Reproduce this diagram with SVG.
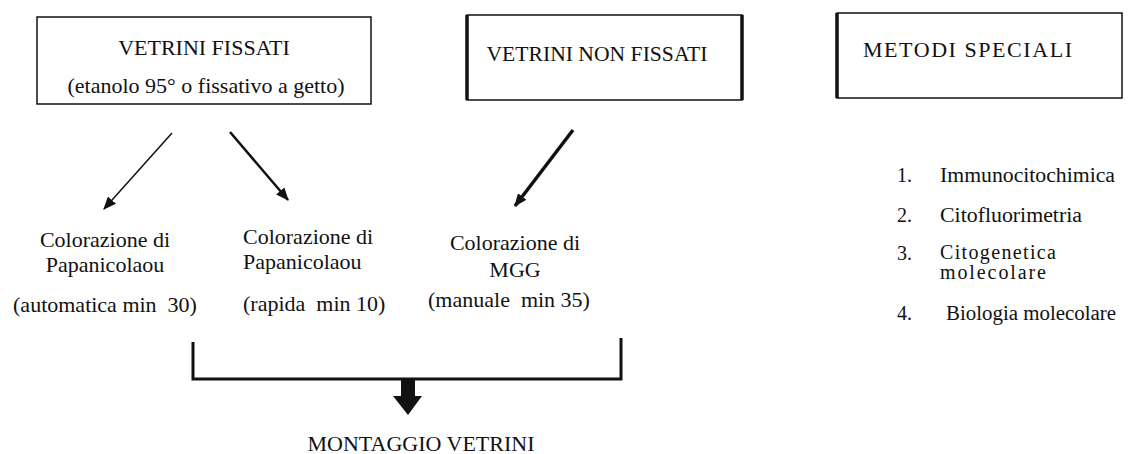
<svg xmlns="http://www.w3.org/2000/svg" width="1128" height="454" viewBox="0 0 1128 454">
<style>
text{font-family:"Liberation Serif","Times New Roman",serif;fill:#111;font-size:22px;white-space:pre}
.lst{font-size:20px}
.box{fill:#fff;stroke:#111;stroke-width:1.5}
.edge{stroke:#111;fill:none;stroke-linecap:butt}
.thick{stroke:#111;stroke-width:3.5}
.mid{text-anchor:middle}
</style>
<defs>
<marker id="ah" viewBox="0 0 12 10" refX="11" refY="5" markerWidth="13" markerHeight="11" markerUnits="userSpaceOnUse" orient="auto">
<path d="M0,0 L12,5 L0,10 z" fill="#111"/>
</marker>
</defs>
<rect width="1128" height="454" fill="#fff"/>
<g id="node-fissati">
<rect class="box" x="37" y="17" width="334" height="87"/>
<text x="204" y="55" class="mid">VETRINI FISSATI</text>
<text x="206" y="93" class="mid">(etanolo 95° o fissativo a getto)</text>
</g>
<g id="node-nonfissati">
<rect class="box" x="467" y="15" width="275" height="85"/>
<line class="thick" x1="467" y1="15" x2="467" y2="100"/>
<line class="thick" x1="742" y1="15" x2="742" y2="100"/>
<text x="597" y="61" class="mid" textLength="221" lengthAdjust="spacingAndGlyphs">VETRINI NON FISSATI</text>
</g>
<g id="node-metodi">
<rect class="box" x="837" y="13" width="285" height="85"/>
<line class="thick" x1="837" y1="13" x2="837" y2="98"/>
<text x="863" y="57" textLength="209" lengthAdjust="spacing">METODI SPECIALI</text>
</g>
<g id="node-pap-auto">
<text x="105" y="247" class="mid">Colorazione di</text>
<text x="105" y="272" class="mid">Papanicolaou</text>
<text x="105" y="312" class="mid">(automatica min  30)</text>
</g>
<g id="node-pap-rapida">
<text x="243" y="244">Colorazione di</text>
<text x="243" y="269">Papanicolaou</text>
<text x="243" y="311">(rapida  min 10)</text>
</g>
<g id="node-mgg">
<text x="515" y="250" class="mid">Colorazione di</text>
<text x="515" y="277" class="mid">MGG</text>
<text x="509" y="307" class="mid">(manuale  min 35)</text>
</g>
<g id="node-list">
<text class="lst" x="897" y="182">1.</text><text class="lst" x="940" y="182" textLength="175" lengthAdjust="spacingAndGlyphs">Immunocitochimica</text>
<text class="lst" x="897" y="222">2.</text><text class="lst" x="940" y="222" textLength="142" lengthAdjust="spacingAndGlyphs">Citofluorimetria</text>
<text class="lst" x="897" y="260">3.</text><text class="lst" x="940" y="259" textLength="116" lengthAdjust="spacing">Citogenetica</text>
<text class="lst" x="940" y="279" textLength="106" lengthAdjust="spacing">molecolare</text>
<text class="lst" x="897" y="320">4.</text><text class="lst" x="946" y="320" textLength="170" lengthAdjust="spacingAndGlyphs">Biologia molecolare</text>
</g>
<g id="node-montaggio">
<text x="421" y="451" class="mid">MONTAGGIO VETRINI</text>
</g>
<g id="connectors">
<line class="edge" x1="172" y1="133" x2="104" y2="209" stroke-width="1.5" marker-end="url(#ah)"/>
<line class="edge" x1="230" y1="132" x2="288" y2="200" stroke-width="2.5" marker-end="url(#ah)"/>
<line class="edge" x1="573" y1="130" x2="515" y2="206" stroke-width="3.5" marker-end="url(#ah)"/>
<path class="edge" d="M193,342 V379 H621 V338" stroke-width="3"/>
<path d="M401,379 H415 V396 H422 L408,415 L393,396 H401 Z" fill="#111"/>
</g>
</svg>
